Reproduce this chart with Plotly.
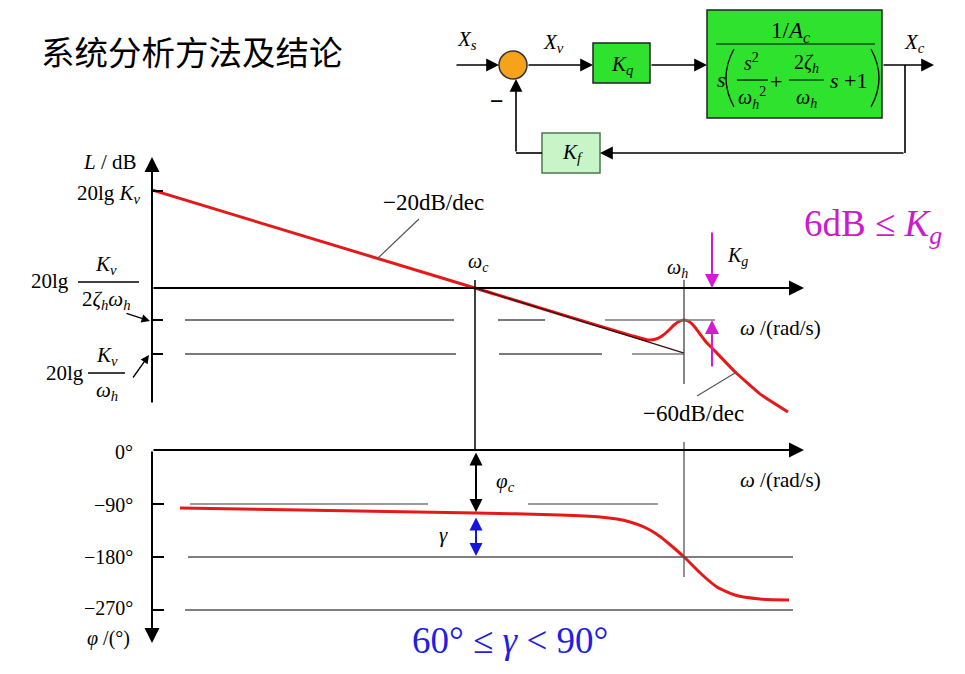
import plotly.graph_objects as go

# ---------------- data ----------------
# magnitude curve: angular frequency (rad/s, wc = 10) and level L (dB)
mag_omega = [1.0, 10.0, 34.33, 36.35, 37.93, 39.59, 41.32, 42.82, 44.37, 45.98, 47.64, 49.73, 51.91, 54.18, 63.8, 76.2, 93.1]
mag_db = [20.0, 0.0, -10.61, -10.41, -9.80, -8.78, -7.55, -6.84, -6.53, -6.84, -7.76, -9.39, -11.02, -12.24, -17.1, -21.6, -25.3]
# -20 dB/dec asymptote continued from wc to wh
asym_omega = [10.0, 44.4]
asym_db = [0.0, -13.3]
# phase curve (degrees)
ph_omega = [1.22, 2.87, 10.07, 18.3, 24.4, 27.5, 30.2, 32.6, 34.8, 37.2, 39.6, 44.4, 49.8, 56.1, 63.8, 76.2, 93.8]
ph_deg = [-97.8, -101.2, -106.2, -109.6, -113.0, -116.5, -121.4, -127.5, -134.9, -145.0, -156.8, -180.4, -207.4, -231.0, -244.5, -251.3, -252.9]

title_text = "系统分析方法及结论"
phase_ticks = ["0°", "−90°", "−180°", "−270°"]

SERIF = "Liberation Serif"
W, H = 965, 674
O = 8                      # page body margin of the html page
FW, FH = W - O, H - 2 * O  # figure size

fig = go.Figure()

fig.add_trace(go.Scatter(x=mag_omega, y=mag_db, xaxis="x2", yaxis="y2", mode="lines",
                         line=dict(color="#E41A1A", width=3, shape="spline", smoothing=0.4),
                         hoverinfo="skip", showlegend=False))
fig.add_trace(go.Scatter(x=asym_omega, y=asym_db, xaxis="x2", yaxis="y2", mode="lines",
                         line=dict(color="#3a1010", width=1.3), hoverinfo="skip", showlegend=False))
fig.add_trace(go.Scatter(x=ph_omega, y=ph_deg, xaxis="x3", yaxis="y3", mode="lines",
                         line=dict(color="#E41A1A", width=3, shape="spline", smoothing=0.6),
                         hoverinfo="skip", showlegend=False))

shapes = []
ann = []


def line(x0, y0, x1, y1, color="black", width=2):
    shapes.append(dict(type="line", xref="x", yref="y", x0=x0, y0=y0, x1=x1, y1=y1,
                       line=dict(color=color, width=width)))


def arrow(x0, y0, x1, y1, color="black", width=2, size=1.5, head=2, side="end"):
    ann.append(dict(x=x1, y=y1, ax=x0, ay=y0, xref="x", yref="y", axref="x", ayref="y",
                    text="", showarrow=True, arrowhead=head, startarrowhead=head,
                    arrowsize=size, startarrowsize=size, arrowwidth=width,
                    arrowcolor=color, arrowside=side, standoff=0, startstandoff=0))


def txt(x, y, s, size=21, color="black", family=SERIF, xanchor="center", yanchor="middle"):
    ann.append(dict(x=x, y=y, xref="x", yref="y", text=s, showarrow=False,
                    font=dict(size=size, color=color, family=family),
                    xanchor=xanchor, yanchor=yanchor))


def rect(x0, y0, x1, y1, fill, border="#222", width=1.5):
    shapes.append(dict(type="rect", xref="x", yref="y", x0=x0, y0=y0, x1=x1, y1=y1,
                       fillcolor=fill, line=dict(color=border, width=width), layer="below"))


# ---------------- title ----------------
txt(39, 50, title_text, size=33.5, family="Noto Sans CJK SC", xanchor="left")

# ---------------- block diagram ----------------
GREEN = "#2EE22E"
rect(593, 43, 650, 83, GREEN)
rect(707, 10, 882, 118, GREEN)
rect(542, 133, 600, 173, "#C8F5C8", border="#4a7a4a")
shapes.append(dict(type="circle", xref="x", yref="y", x0=499, y0=51, x1=527, y1=79,
                   fillcolor="#F7A21B", line=dict(color="#333", width=1.5)))
arrow(455, 65, 499, 65, width=1.6, size=1.6)
arrow(527, 65, 593, 65, width=1.6, size=1.6)
arrow(650, 65, 707, 65, width=1.6, size=1.6)
arrow(882, 65, 934, 65, width=1.6, size=1.6)
line(905, 65, 905, 153, width=1.6)
arrow(905, 153, 600, 153, width=1.6, size=1.6)
line(542, 153, 516, 153, width=1.6)
arrow(516, 153, 516, 79, width=1.6, size=1.6)
txt(467, 40, "<i>X</i><sub><i>s</i></sub>", size=21)
txt(553, 43, "<i>X</i><sub><i>v</i></sub>", size=21)
txt(914, 43, "<i>X</i><sub><i>c</i></sub>", size=21)
txt(497, 101, "<b>−</b>", size=24)
txt(622, 65, "<i>K</i><sub><i>q</i></sub>", size=21)
txt(572, 153, "<i>K</i><sub><i>f</i></sub>", size=21)
# transfer function
txt(790, 32, "1/<i>A</i><sub><i>c</i></sub>", size=23)
line(716, 44, 875, 44, width=1.2)
txt(721, 79, "<i>s</i>", size=22)
shapes.append(dict(type="path", xref="x", yref="y", path="M 734,49 Q 718,78 734,107",
                   line=dict(color="black", width=1.3)))
shapes.append(dict(type="path", xref="x", yref="y", path="M 871,49 Q 887,78 871,107",
                   line=dict(color="black", width=1.3)))
txt(751, 62, "<i>s</i><sup>2</sup>", size=20)
line(737, 80, 768, 80, width=1.2)
txt(752, 98, "<i>ω</i><sub><i>h</i></sub><sup>2</sup>", size=20)
txt(776, 81, "+", size=22)
txt(806, 63, "2<i>ζ</i><sub><i>h</i></sub>", size=20)
line(789, 80, 824, 80, width=1.2)
txt(806, 98, "<i>ω</i><sub><i>h</i></sub>", size=20)
txt(848, 80, "<i>s</i> +1", size=22)

# ---------------- magnitude plot decorations ----------------
arrow(152, 404, 152, 157, width=2, size=1.5)           # L axis
arrow(152, 288, 804, 288, width=2, size=1.5)           # omega axis
for yy in (191, 320, 354):
    line(152, yy, 163, yy, width=2)
GRAY = "#7a7a7a"
line(185, 320, 454, 320, GRAY, 2)
line(498, 320, 545, 320, GRAY, 2)
line(605, 320, 715, 320, GRAY, 1.6)
line(185, 354, 456, 354, GRAY, 2)
line(499, 354, 602, 354, GRAY, 2)
line(632, 354, 684, 354, GRAY, 1.6)
line(475, 280, 475, 451, "black", 1.5)
line(684, 280, 684, 384, "#444", 1.3)
txt(110, 162, "<i>L</i> / dB", size=21)
txt(143, 194, "20lg <i>K</i><sub><i>v</i></sub>", size=21, xanchor="right")
# 20lg Kv/(2 zeta_h omega_h)
txt(50, 281, "20lg", size=21)
txt(106, 265, "<i>K</i><sub><i>v</i></sub>", size=21)
line(78, 282, 139, 282, width=1.3)
txt(106, 300, "2<i>ζ</i><sub><i>h</i></sub><i>ω</i><sub><i>h</i></sub>", size=21)
arrow(125, 313, 150, 321, width=1.3, size=1.3)
# 20lg Kv/omega_h
txt(65, 373, "20lg", size=21)
txt(107, 356, "<i>K</i><sub><i>v</i></sub>", size=21)
line(88, 373, 125, 373, width=1.3)
txt(107, 391, "<i>ω</i><sub><i>h</i></sub>", size=21)
arrow(132, 379, 149, 355, width=1.3, size=1.3)
# labels
txt(433, 202, "−20dB/dec", size=23)
line(419, 219, 377, 259, "#555", 1.2)
txt(478, 262, "<i>ω</i><sub><i>c</i></sub>", size=20)
txt(677, 268, "<i>ω</i><sub><i>h</i></sub>", size=20)
txt(693, 413, "−60dB/dec", size=23)
line(697, 396, 735, 373, "#555", 1.2)
txt(780, 328, "<i>ω</i> /(rad/s)", size=21)
MAG = "#D21BD2"
arrow(712, 231, 712, 288, MAG, 2, 1.4)
arrow(712, 368, 712, 320, MAG, 2, 1.4)
txt(737, 256, "<i>K</i><sub><i>g</i></sub>", size=20)
txt(873, 226, "6dB ≤ <i>K</i><sub><i>g</i></sub>", size=37, color="#CC1ACC")

# ---------------- phase plot decorations ----------------
arrow(152, 450, 152, 643, width=2, size=1.5)            # phi axis (down)
arrow(152, 450, 804, 450, width=2, size=1.5)            # omega axis
for yy in (504, 557, 610):
    line(152, yy, 164, yy, width=2)
line(190, 504, 428, 504, GRAY, 1.6)
line(528, 504, 658, 504, GRAY, 1.6)
line(188, 557, 793, 557, "#555", 1.3)
line(185, 610, 793, 610, "#555", 1.3)
line(684, 442, 684, 577, "#555", 1.3)
for yy, lab in zip((452, 505, 557, 608), phase_ticks):
    txt(135, yy, lab, size=20, xanchor="right")
txt(108, 638, "<i>φ</i> /(°)", size=20)
arrow(476, 451, 476, 512, "black", 2, 1.3, side="end+start")
arrow(476, 516, 476, 556, "#1515E0", 2, 1.3, side="end+start")
txt(505, 482, "<i>φ</i><sub><i>c</i></sub>", size=21)
txt(443, 535, "<i>γ</i>", size=21)
txt(780, 480, "<i>ω</i> /(rad/s)", size=21)
txt(510, 640, "60° ≤ <i>γ</i> < 90°", size=37, color="#1E1EE6")

# ---------------- axes ----------------
D = 323.0          # pixels per decade
DBPX = 4.9         # pixels per dB
DEGPX = 0.593      # pixels per degree
x_px0, x_px1 = 152, 810
m_top, m_bot = 150, 420
p_top, p_bot = 440, 620
hid = dict(visible=False, showgrid=False, zeroline=False, fixedrange=True)


def fx(px):
    return (px - O) / FW


def fy(py):
    return 1 - (py - O) / FH


fig.update_layout(
    width=FW, height=FH, autosize=False,
    margin=dict(l=0, r=0, t=0, b=0),
    paper_bgcolor="white", plot_bgcolor="rgba(0,0,0,0)",
    showlegend=False,
    xaxis=dict(range=[O, O + FW], domain=[0, 1], **hid),
    yaxis=dict(range=[O + FH, O], domain=[0, 1], **hid),
    xaxis2=dict(type="log", range=[0, (x_px1 - x_px0) / D], domain=[fx(x_px0), fx(x_px1)],
                anchor="y2", **hid),
    yaxis2=dict(range=[(288 - m_bot) / DBPX, (288 - m_top) / DBPX],
                domain=[fy(m_bot), fy(m_top)], anchor="x2", **hid),
    xaxis3=dict(type="log", range=[0, (x_px1 - x_px0) / D], domain=[fx(x_px0), fx(x_px1)],
                anchor="y3", **hid),
    yaxis3=dict(range=[-(p_bot - 450) / DEGPX, (450 - p_top) / DEGPX],
                domain=[fy(p_bot), fy(p_top)], anchor="x3", **hid),
    shapes=shapes, annotations=ann,
)

fig.write_html("out.html")
